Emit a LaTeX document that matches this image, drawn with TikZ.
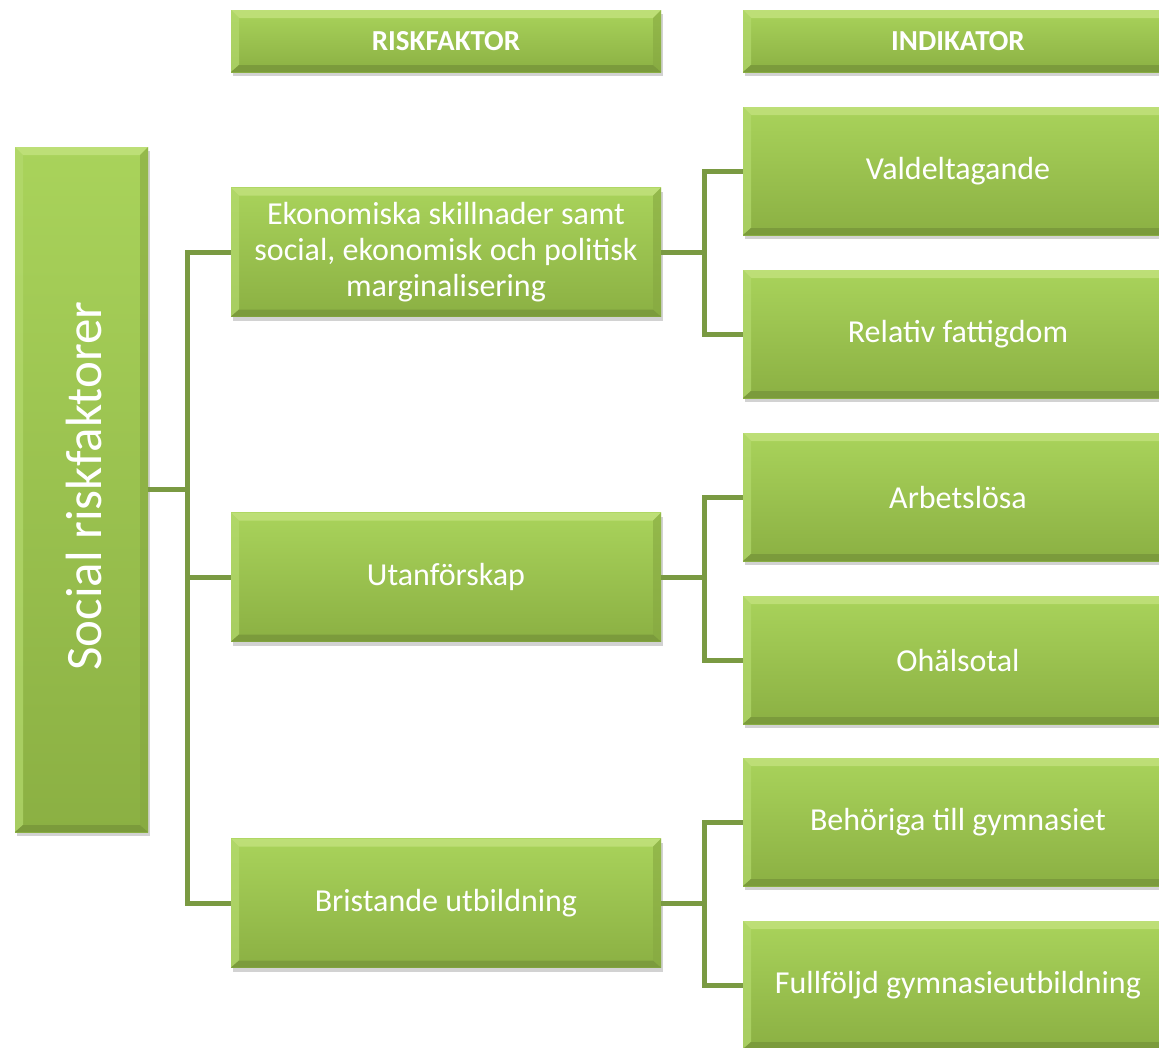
\documentclass[tikz,border=0pt]{standalone}
\usepackage{fontspec}
\setmainfont{Carlito}
\usepackage{tikz}
\usetikzlibrary{shadows}

\definecolor{boxtop}{HTML}{A9D35B}
\definecolor{boxbot}{HTML}{8BB043}
\definecolor{bevellight}{HTML}{C3E27E}
\definecolor{bevelside}{HTML}{B4DA6E}
\definecolor{beveldark}{HTML}{77963A}
\definecolor{bevelright}{HTML}{86A841}
\definecolor{connector}{HTML}{7A9A42}

\tikzset{
  greenbox/.style={rectangle, inner sep=0pt, text=white, align=center,
    top color=boxtop, bottom color=boxbot,
    drop shadow={shadow xshift=2pt, shadow yshift=-4pt, opacity=0.25, fill=black!70},
    path picture={
      \fill[bevellight, opacity=0.8] (path picture bounding box.north west) -- (path picture bounding box.north east)
        -- ([xshift=-8pt,yshift=-8pt]path picture bounding box.north east) -- ([xshift=8pt,yshift=-8pt]path picture bounding box.north west) -- cycle;
      \fill[bevelside, opacity=0.7] (path picture bounding box.north west) -- ([xshift=8pt,yshift=-8pt]path picture bounding box.north west)
        -- ([xshift=8pt,yshift=7pt]path picture bounding box.south west) -- (path picture bounding box.south west) -- cycle;
      \fill[beveldark, opacity=0.8] (path picture bounding box.south west) -- ([xshift=8pt,yshift=7pt]path picture bounding box.south west)
        -- ([xshift=-8pt,yshift=7pt]path picture bounding box.south east) -- (path picture bounding box.south east) -- cycle;
      \fill[bevelright, opacity=0.6] (path picture bounding box.south east) -- ([xshift=-8pt,yshift=7pt]path picture bounding box.south east)
        -- ([xshift=-8pt,yshift=-8pt]path picture bounding box.north east) -- (path picture bounding box.north east) -- cycle;
    }},
  headbox/.style={greenbox, minimum width=430pt, minimum height=62pt, font=\fontsize{29}{34}\selectfont\bfseries},
  riskbox/.style={greenbox, minimum width=430pt, minimum height=129pt, font=\fontsize{32}{36}\selectfont},
  indbox/.style={greenbox, minimum width=430pt, minimum height=128pt, font=\fontsize{32}{36}\selectfont},
  conn/.style={draw=connector, line width=5pt}
}

\begin{document}
\begin{tikzpicture}[x=1pt, y=-1pt]
        \useasboundingbox (0,0) rectangle (1159,1047);

        % Column headers
        \node[headbox] (hrisk) at (446,41) {RISKFAKTOR};
        \node[headbox] (hind) at (958,41) {INDIKATOR};

        % Main box, text turned upright
        \node[greenbox, minimum width=133pt, minimum height=685pt] (social) at (81.5,489.5) {};
        \node[text=white, rotate=90, font=\fontsize{51}{57}\selectfont] (socialtxt) at (84,486) {Social riskfaktorer};

        % Risk factors
        \node[riskbox] (ekon) at (446,252) {Ekonomiska skillnader samt\\social, ekonomisk och politisk\\marginalisering};
        \node[riskbox] (utan) at (446,577) {Utanförskap};
        \node[riskbox] (brist) at (446,903) {Bristande utbildning};

        % Indicators
        \node[indbox] (val) at (958,171) {Valdeltagande};
        \node[indbox] (fatt) at (958,334) {Relativ fattigdom};
        \node[indbox] (arb) at (958,497) {Arbetslösa};
        \node[indbox] (ohal) at (958,660) {Ohälsotal};
        \node[indbox] (behor) at (958,822) {Behöriga till gymnasiet};
        \node[indbox] (full) at (958,985) {Fullföljd gymnasieutbildning};

        % Connectors from the main box
        \draw[conn] (social.east) -- ++(40,0);
        \draw[conn] (ekon.west) -- ++(-43,0) |- (brist.west);
        \draw[conn] (utan.west) -- ++(-43,0);

        % Connectors to the indicators
        \draw[conn] (ekon.east) -- ++(44,0);
        \draw[conn] (val.west) -- ++(-38,0) |- (fatt.west);
        \draw[conn] (utan.east) -- ++(44,0);
        \draw[conn] (arb.west) -- ++(-38,0) |- (ohal.west);
        \draw[conn] (brist.east) -- ++(44,0);
        \draw[conn] (behor.west) -- ++(-38,0) |- (full.west);
    \end{tikzpicture}
\end{document}
